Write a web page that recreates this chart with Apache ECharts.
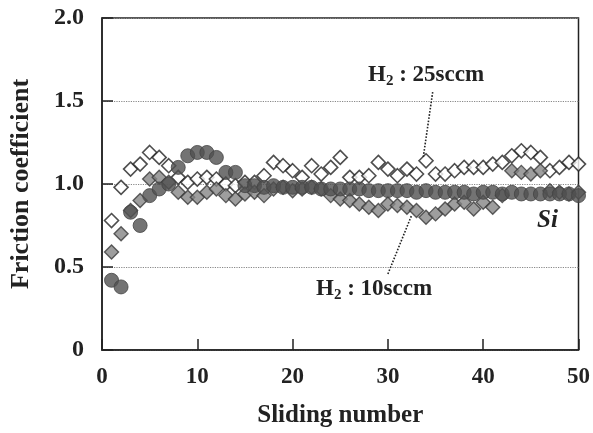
<!DOCTYPE html>
<html>
<head>
<meta charset="utf-8">
<script src="https://cdn.jsdelivr.net/npm/echarts@6/dist/echarts.min.js"></script>
<style>
  html, body { margin: 0; padding: 0; background: #fff; }
  #chart { width: 593px; height: 433px; }
</style>
</head>
<body>
<div id="chart"></div>
<script>
// sliding number (x) for every measured pass
const sliding = [1, 2, 3, 4, 5, 6, 7, 8, 9, 10, 11, 12, 13, 14, 15, 16, 17, 18, 19, 20,
  21, 22, 23, 24, 25, 26, 27, 28, 29, 30, 31, 32, 33, 34, 35, 36, 37, 38, 39, 40,
  41, 42, 43, 44, 45, 46, 47, 48, 49, 50]

// H2 : 25sccm (open diamonds)
const h2_25 = [0.78, 0.98, 1.09, 1.12, 1.19, 1.16, 1.11, 1.04, 1.01, 1.03,
  1.04, 1.03, 1.00, 0.99, 1.01, 1.01, 1.05, 1.13, 1.11, 1.08,
  1.04, 1.11, 1.06, 1.10, 1.16, 1.04, 1.04, 1.05, 1.13, 1.09,
  1.05, 1.09, 1.06, 1.14, 1.06, 1.06, 1.08, 1.10, 1.10, 1.10,
  1.12, 1.13, 1.17, 1.20, 1.19, 1.16, 1.08, 1.10, 1.13, 1.12]

// H2 : 10sccm (grey diamonds)
const h2_10 = [0.59, 0.70, 0.84, 0.90, 1.03, 1.04, 1.01, 0.95, 0.92, 0.92,
  0.95, 0.97, 0.93, 0.91, 0.94, 0.95, 0.93, 0.97, 0.98, 0.96,
  0.97, 0.98, 0.97, 0.93, 0.91, 0.90, 0.88, 0.86, 0.84, 0.88,
  0.87, 0.86, 0.84, 0.80, 0.82, 0.85, 0.88, 0.89, 0.85, 0.89,
  0.86, 0.93, 1.08, 1.07, 1.06, 1.08, 0.96, 0.95, 0.94, 0.95]

// Si (dark circles)
const si = [0.42, 0.38, 0.83, 0.75, 0.93, 0.97, 1.00, 1.10, 1.17, 1.19,
  1.19, 1.16, 1.07, 1.07, 0.99, 0.99, 0.98, 0.99, 0.98, 0.98,
  0.98, 0.98, 0.97, 0.97, 0.97, 0.97, 0.97, 0.96, 0.96, 0.96,
  0.96, 0.96, 0.95, 0.96, 0.95, 0.95, 0.95, 0.95, 0.94, 0.95,
  0.95, 0.94, 0.95, 0.94, 0.94, 0.94, 0.94, 0.94, 0.94, 0.93]

const yTickLabels = { 0: '0', 0.5: '0.5', 1: '1.0', 1.5: '1.5', 2: '2.0' }

// leader lines from the labels to their curves, in data units
const leader25 = [[34.7, 1.554], [33.7, 1.157]]
const leader10 = [[30.0, 0.458], [32.5, 0.813]]

const FONT = 'Liberation Serif'
const INK = '#222'
const pairs = ys => sliding.map((x, i) => [x, ys[i]])

const chart = echarts.init(document.getElementById('chart'))

const leaderLine = pts => ({
  silent: true,
  symbol: 'none',
  label: { show: false },
  lineStyle: { type: 'dotted', color: INK, width: 1.6 },
  data: [[{ coord: pts[0] }, { coord: pts[1] }]],
  animation: false,
})

const labelRich = {
  a: { fontFamily: FONT, fontWeight: 'bold', fontSize: 23, fill: INK },
  b: { fontFamily: FONT, fontWeight: 'bold', fontSize: 15, fill: INK, padding: [12, 0, 0, 0] },
}

chart.setOption({
  animation: false,
  grid: {
    left: 101, right: 14, top: 18, bottom: 83,
    show: true, borderColor: INK, borderWidth: 1.5,
  },
  xAxis: {
    type: 'value',
    min: 0, max: 50, interval: 10,
    name: 'Sliding number',
    nameLocation: 'middle',
    nameGap: 53,
    nameTextStyle: { fontFamily: FONT, fontWeight: 'bold', fontSize: 25, color: INK },
    axisLine: { show: true, lineStyle: { color: INK, width: 1.5 } },
    axisTick: { inside: true, length: 11, lineStyle: { color: INK, width: 1.5 } },
    axisLabel: { margin: 16, fontFamily: FONT, fontWeight: 'bold', fontSize: 23, color: INK },
    splitLine: { show: false },
  },
  yAxis: {
    type: 'value',
    min: 0, max: 2, interval: 0.5,
    name: 'Friction coefficient',
    nameLocation: 'middle',
    nameGap: 68,
    nameTextStyle: { fontFamily: FONT, fontWeight: 'bold', fontSize: 26, color: INK },
    axisLine: { show: true, lineStyle: { color: INK, width: 1.5 } },
    axisTick: { inside: true, length: 11, lineStyle: { color: INK, width: 1.5 } },
    axisLabel: {
      margin: 18, fontFamily: FONT, fontWeight: 'bold', fontSize: 24, color: INK,
      formatter: v => yTickLabels[v],
    },
    splitLine: { show: true, lineStyle: { type: 'dotted', color: '#888', width: 1.2 } },
  },
  series: [
    {
      name: 'H2 : 25sccm',
      type: 'scatter',
      symbol: 'diamond',
      symbolSize: 14,
      data: pairs(h2_25),
      itemStyle: { color: '#fff', borderColor: INK, borderWidth: 1.6 },
      markLine: leaderLine(leader25),
      z: 2,
    },
    {
      name: 'H2 : 10sccm',
      type: 'scatter',
      symbol: 'diamond',
      symbolSize: 14,
      data: pairs(h2_10),
      itemStyle: { color: '#868686', borderColor: '#3a3a3a', borderWidth: 1.4 },
      markLine: leaderLine(leader10),
      z: 3,
    },
    {
      name: 'Si',
      type: 'scatter',
      symbol: 'circle',
      symbolSize: 14,
      data: pairs(si),
      itemStyle: { color: '#505050', borderColor: '#444', borderWidth: 1 },
      z: 4,
    },
  ],
  graphic: [
    {
      type: 'text', left: 368, top: 64,
      style: { text: '{a|H}{b|2}{a| : 25sccm}', rich: labelRich },
    },
    {
      type: 'text', left: 316, top: 278,
      style: { text: '{a|H}{b|2}{a| : 10sccm}', rich: labelRich },
    },
    {
      type: 'text', left: 537, top: 208,
      style: {
        text: 'Si', fontFamily: FONT, fontWeight: 'bold', fontStyle: 'italic',
        fontSize: 25, fill: INK,
      },
    },
  ],
})
</script>
</body>
</html>
